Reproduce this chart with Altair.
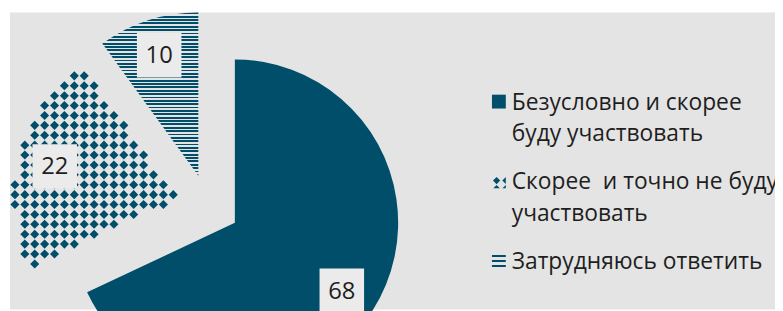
import math
import altair as alt
import pandas as pd

# ---- data ----
categories = [
    "Безусловно и скорее\nбуду участвовать",
    "Скорее \u00a0и точно не буду\nучаствовать",
    "Затрудняюсь ответить",
]
values = [68, 22, 10]
order = [0, 1, 2]

# ---- styling / layout ----
TEAL = "#004e6a"
BG = "#e4e4e4"
BOX = "#ebebeb"
TXT = "#1e1e1e"
FONT = "Open Sans"
W, H = 773, 300
CX, CY = 200.2, 195.3      # pie centre (view px)
R = 165                    # pie radius
EXPLODE = 32               # slice explosion distance
LABEL_R = 128              # label distance from slice vertex
TOTAL = sum(values)

df = pd.DataFrame({"cat": categories, "value": values, "idx": order})

base = (
    alt.Chart(df)
    .transform_window(cum="sum(value)", sort=[alt.SortField("idx", order="ascending")], frame=[None, 0])
    .transform_calculate(start="datum.cum - datum.value")
    .transform_calculate(end="datum.cum")
    .transform_calculate(mid=f"(datum.cum - datum.value/2) / {TOTAL} * 2 * PI")
    .transform_calculate(vx=f"{CX} + {EXPLODE}*sin(datum.mid)")
    .transform_calculate(vy=f"{CY} - {EXPLODE}*cos(datum.mid)")
    .transform_calculate(lx=f"datum.vx + {LABEL_R}*sin(datum.mid)")
    .transform_calculate(ly=f"datum.vy - {LABEL_R}*cos(datum.mid)")
)

arc_enc = dict(
    theta=alt.Theta("start:Q", scale=alt.Scale(domain=[0, TOTAL], range=[0, 2 * math.pi])),
    theta2=alt.Theta2("end:Q"),
    x=alt.X("vx:Q", scale=None),
    y=alt.Y("vy:Q", scale=None),
)

# horizontal stripe gradient for the small slice (bbox height = R)
period = 3.4
stops = []
k = 0
while k * period < R:
    a = k * period / R
    b = min((k * period + 0.55 * period) / R, 1)
    c = min((k + 1) * period / R, 1)
    stops += [
        alt.GradientStop(offset=a, color=TEAL),
        alt.GradientStop(offset=b, color=TEAL),
        alt.GradientStop(offset=b, color=BG),
        alt.GradientStop(offset=c, color=BG),
    ]
    k += 1
stripes = alt.LinearGradient(gradient="linear", stops=stops, x1=0, x2=0, y1=0, y2=1)

arc0 = base.transform_filter("datum.idx == 0").mark_arc(radius=R, fill=TEAL, strokeWidth=0).encode(**arc_enc)
arc1 = base.transform_filter("datum.idx == 1").mark_arc(radius=R, fill=BG, strokeWidth=0).encode(**arc_enc)
arc2 = base.transform_filter("datum.idx == 2").mark_arc(radius=R, fill=stripes, strokeWidth=0).encode(**arc_enc)

# diamond texture for the middle slice, clipped to its wedge
COLS, ROWS = 78, 31
texture = (
    base.transform_filter("datum.idx == 1")
    .transform_calculate(cell=f"sequence(0, {COLS * ROWS})")
    .transform_flatten(["cell"])
    .transform_calculate(gx=f"5 + 10*(datum.cell % {COLS})")
    .transform_calculate(gy=f"4 + 10*floor(datum.cell / {COLS})")
    .transform_calculate(ddx="datum.gx - datum.vx")
    .transform_calculate(ddy="datum.gy - datum.vy")
    .transform_calculate(rr="sqrt(datum.ddx*datum.ddx + datum.ddy*datum.ddy)")
    .transform_calculate(ang="(atan2(datum.ddx, -datum.ddy) + 2*PI) % (2*PI)")
    .transform_filter(
        f"datum.rr <= {R} && datum.ang >= datum.start/{TOTAL}*2*PI && datum.ang <= datum.end/{TOTAL}*2*PI"
    )
    .mark_point(shape="diamond", filled=True, size=84, color=TEAL, opacity=1, strokeWidth=0)
    .encode(x=alt.X("gx:Q", scale=None), y=alt.Y("gy:Q", scale=None))
)

boxes = base.mark_point(shape="square", filled=True, size=45 * 45, color=BOX, opacity=1, strokeWidth=0).encode(
    x=alt.X("lx:Q", scale=None), y=alt.Y("ly:Q", scale=None)
)
nums = base.mark_text(font=FONT, fontSize=24, color=TXT, baseline="middle", align="center", dy=1).encode(
    x=alt.X("lx:Q", scale=None), y=alt.Y("ly:Q", scale=None), text="value:Q"
)

# legend
SQUARE = "square"
DIAMONDS = ("M-0.85,-0.1L-0.33,-0.62L0.19,-0.1L-0.33,0.42Z M0.5,-0.1L1,-0.6L1,0.4Z "
            "M-0.8,1L-0.33,0.53L0.14,1Z M0.52,1L1,0.52L1,1Z")
LINES = "M-1,-0.86H1V-0.57H-1Z M-1,-0.14H1V0.14H-1Z M-1,0.57H1V0.86H-1Z"
leg_y = alt.Scale(type="point", domain=order, range=[98, 259], padding=0)

leg_sym = alt.Chart(df).mark_point(filled=True, size=196, color=TEAL, opacity=1, strokeWidth=0, x=494, yOffset=-8).encode(
    y=alt.Y("idx:O", scale=leg_y, axis=None),
    shape=alt.Shape("idx:O", scale=alt.Scale(domain=order, range=[SQUARE, DIAMONDS, LINES]), legend=None),
)
leg_txt = alt.Chart(df).mark_text(
    font=FONT, fontSize=23, color=TXT, align="left", baseline="alphabetic", lineBreak="\n", lineHeight=32, x=507
).encode(
    y=alt.Y("idx:O", scale=leg_y, axis=None),
    text="cat:N",
)

chart = (
    alt.layer(arc0, arc1, arc2, texture, boxes, nums, leg_sym, leg_txt)
    .resolve_scale(y="independent", x="independent")
    .properties(
        width=W,
        height=H,
        autosize=alt.AutoSizeParams(type="none"),
        padding={"left": 2, "top": 3, "right": 0, "bottom": 0},
        background="white",
    )
    .configure_view(fill=BG, stroke=None)
)

chart.save("out.html", embed_options={"renderer": "svg", "actions": False})
